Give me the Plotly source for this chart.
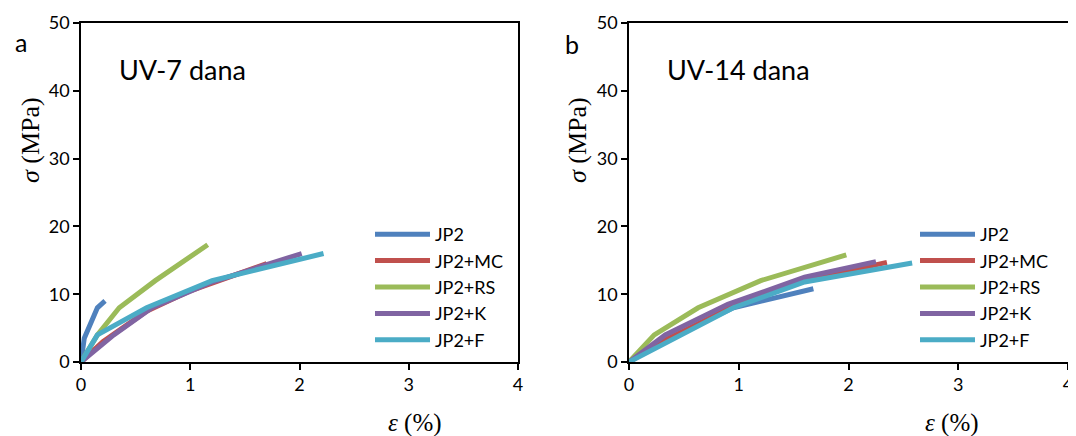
import plotly.graph_objects as go

series = ["JP2", "JP2+MC", "JP2+RS", "JP2+K", "JP2+F"]
colors = ["#4F81BD", "#C0504D", "#9BBB59", "#8064A2", "#4BACC6"]

# Panel a: UV-7 dana
a_x = {
    "JP2":    [0, 0.03, 0.15, 0.22],
    "JP2+MC": [0, 0.2, 0.6, 1.0, 1.7],
    "JP2+RS": [0, 0.15, 0.35, 0.68, 1.16],
    "JP2+K":  [0, 0.3, 0.65, 1.2, 2.02],
    "JP2+F":  [0, 0.15, 0.6, 1.2, 2.22],
}
a_y = {
    "JP2":    [0, 3.5, 8, 9],
    "JP2+MC": [0, 3, 7.5, 10.5, 14.5],
    "JP2+RS": [0, 4, 8, 12, 17.3],
    "JP2+K":  [0, 4, 8, 11.8, 16],
    "JP2+F":  [0, 4, 8, 12, 16],
}
# Panel b: UV-14 dana
b_x = {
    "JP2":    [0, 0.3, 0.95, 1.68],
    "JP2+MC": [0, 0.3, 0.95, 1.6, 2.35],
    "JP2+RS": [0, 0.23, 0.63, 1.2, 1.98],
    "JP2+K":  [0, 0.33, 0.9, 1.6, 2.25],
    "JP2+F":  [0, 0.35, 0.95, 1.6, 2.58],
}
b_y = {
    "JP2":    [0, 3, 8, 10.8],
    "JP2+MC": [0, 3, 8.2, 12, 14.7],
    "JP2+RS": [0, 4, 8, 12, 15.8],
    "JP2+K":  [0, 4, 8.5, 12.5, 14.8],
    "JP2+F":  [0, 3, 8, 11.8, 14.6],
}
x_ticks = [0, 1, 2, 3, 4]
y_ticks = [0, 10, 20, 30, 40, 50]

OFF = 8  # page body margin
W, H = 1076 - OFF, 436 - OFF
TOP, BOT = 23 - OFF, 362 - OFF


def px(x):
    return (x - OFF) / W


def py(y):
    return (BOT - (y - OFF)) / (BOT - TOP)


fig = go.Figure()
for s, c in zip(series, colors):
    fig.add_trace(go.Scatter(x=a_x[s], y=a_y[s], mode="lines", name=s,
                             line=dict(color=c, width=5), xaxis="x", yaxis="y",
                             legend="legend"))
for s, c in zip(series, colors):
    fig.add_trace(go.Scatter(x=b_x[s], y=b_y[s], mode="lines", name=s,
                             line=dict(color=c, width=5), xaxis="x2", yaxis="y2",
                             legend="legend2"))

axis_common = dict(showgrid=False, zeroline=False, showline=True, linecolor="black",
                   linewidth=1.5, mirror=True, ticks="outside", ticklen=6,
                   tickcolor="black", tickwidth=1.5,
                   tickfont=dict(family="Lato, Liberation Sans", size=18, color="black"))

legend_common = dict(font=dict(family="Lato, Liberation Sans", size=18, color="black"),
                     bgcolor="rgba(0,0,0,0)", itemwidth=55, tracegroupgap=0,
                     xanchor="left", yanchor="top")

fig.update_layout(
    width=W, height=H,
    margin=dict(l=0, r=0, t=TOP, b=H - BOT, autoexpand=False),
    plot_bgcolor="white", paper_bgcolor="white",
    showlegend=True,
    xaxis=dict(domain=[px(81), px(518)], range=[0, 4], tickvals=x_ticks, anchor="y", **axis_common),
    yaxis=dict(domain=[0, 1], range=[0, 50], tickvals=y_ticks, anchor="x", **axis_common),
    xaxis2=dict(domain=[px(629), px(1068)], range=[0, 4], tickvals=x_ticks, anchor="y2", **axis_common),
    yaxis2=dict(domain=[0, 1], range=[0, 50], tickvals=y_ticks, anchor="x2", **axis_common),
    legend=dict(x=px(370), y=py(216), **legend_common),
    legend2=dict(x=px(915), y=py(216), **legend_common),
)

serif = "Liberation Serif, Times New Roman, serif"
sans = "Lato, Liberation Sans"
ann = [
    dict(text="a", x=px(21), y=py(42), font=dict(family=sans, size=25)),
    dict(text="b", x=px(572), y=py(44), font=dict(family=sans, size=25)),
    dict(text="UV-7 dana", x=px(182), y=py(70), font=dict(family=sans, size=27)),
    dict(text="UV-14 dana", x=px(738), y=py(70), font=dict(family=sans, size=27)),
    dict(text="<i>σ</i> (MPa)", x=px(30), y=py(140), textangle=-90, font=dict(family=serif, size=26)),
    dict(text="<i>σ</i> (MPa)", x=px(577), y=py(140), textangle=-90, font=dict(family=serif, size=26)),
    dict(text="<i>ε</i> (%)", x=px(415), y=py(423), font=dict(family=serif, size=25)),
    dict(text="<i>ε</i> (%)", x=px(952), y=py(423), font=dict(family=serif, size=25)),
]
for a in ann:
    a.update(xref="paper", yref="paper", showarrow=False, xanchor="center", yanchor="middle")
    a["font"]["color"] = "black"
fig.update_layout(annotations=ann)

fig.write_html("out.html")
